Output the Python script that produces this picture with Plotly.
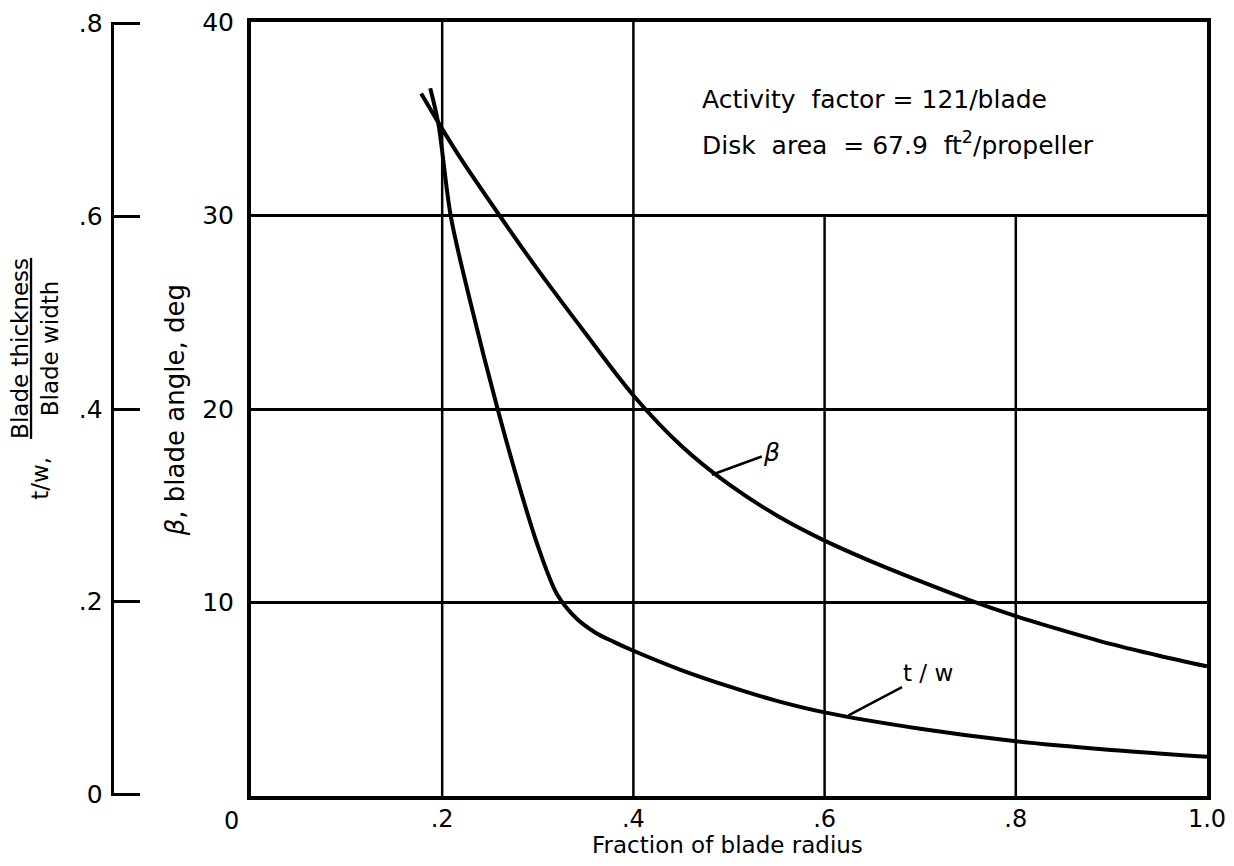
import plotly.graph_objects as go

# ---- data ----
r_beta = [0.178, 0.196, 0.22, 0.26, 0.30, 0.35, 0.40, 0.45, 0.50, 0.55, 0.60,
          0.65, 0.70, 0.75, 0.80, 0.85, 0.90, 0.95, 1.00]
beta = [36.3, 34.8, 32.9, 30.0, 27.2, 23.9, 20.7, 18.1, 16.1, 14.5, 13.2,
        12.1, 11.1, 10.15, 9.3, 8.55, 7.85, 7.25, 6.7]

r_tw = [0.1875, 0.196, 0.209, 0.229, 0.258, 0.28, 0.30, 0.32, 0.34, 0.36, 0.38,
        0.40, 0.45, 0.50, 0.55, 0.60, 0.70, 0.80, 0.90, 1.00]
tw = [0.733, 0.696, 0.600, 0.513, 0.400, 0.322, 0.258, 0.208, 0.183, 0.168, 0.158,
      0.149, 0.129, 0.112, 0.097, 0.085, 0.068, 0.055, 0.046, 0.039]

x_ticks = [0.2, 0.4, 0.6, 0.8, 1.0]
x_ticktext = [".2", ".4", ".6", ".8", "1.0"]
beta_ticks = [10, 20, 30, 40]
beta_ticktext = ["10", "20", "30", "40"]
tw_ticks = [0, 0.2, 0.4, 0.6, 0.8]
tw_ticktext = ["0", ".2", ".4", ".6", ".8"]

grid_x_full = [0.2, 0.4]
grid_x_partial = [0.6, 0.8]   # stop at beta = 30 (annotation box above)
partial_top = 30

note1 = "Activity  factor = 121/blade"
note2 = "Disk  area  = 67.9  ft<sup>2</sup>/propeller"

# ---- layout geometry (page has an 8px body margin) ----
OFF = 8
W, H = 1234 - 2 * OFF, 866 - 2 * OFF
ML, MR, MT, MB = 0, 14, 14, 62
PW = W - ML - MR
PH = H - MT - MB


def px_x(px):
    return (px - OFF - ML) / PW


def px_y(py):
    return (H - MB - (py - OFF)) / PH


FONT = "DejaVu Sans"
BLACK = "#000000"

fig = go.Figure()
fig.add_trace(go.Scatter(x=r_beta, y=beta, mode="lines", yaxis="y",
                         line=dict(color=BLACK, width=4, shape="spline", smoothing=0.9),
                         showlegend=False, hoverinfo="skip"))
fig.add_trace(go.Scatter(x=r_tw, y=tw, mode="lines", yaxis="y2",
                         line=dict(color=BLACK, width=4, shape="spline", smoothing=0.9),
                         showlegend=False, hoverinfo="skip"))

shapes = []
for gx in grid_x_full:
    shapes.append(dict(type="line", xref="x", yref="y", x0=gx, x1=gx, y0=0, y1=40,
                       line=dict(color=BLACK, width=2.5), layer="below"))
for gx in grid_x_partial:
    shapes.append(dict(type="line", xref="x", yref="y", x0=gx, x1=gx, y0=0, y1=partial_top,
                       line=dict(color=BLACK, width=2.5), layer="below"))

annotations = [
    dict(text=note1, xref="x", yref="y", x=0.47, y=36.0, xanchor="left", yanchor="middle",
         showarrow=False, font=dict(family=FONT, size=25, color=BLACK)),
    dict(text=note2, xref="x", yref="y", x=0.47, y=33.7, xanchor="left", yanchor="middle",
         showarrow=False, font=dict(family=FONT, size=25, color=BLACK)),
    # curve labels with leader lines
    dict(text="<i>β</i>", xref="x", yref="y", x=0.482, y=16.6, ax=60, ay=-22,
         showarrow=True, arrowhead=0, arrowwidth=2.5, arrowcolor=BLACK,
         font=dict(family=FONT, size=25, color=BLACK)),
    dict(text="t / w", xref="x", yref="y2", x=0.625, y=0.082, ax=80, ay=-42,
         showarrow=True, arrowhead=0, arrowwidth=2.5, arrowcolor=BLACK,
         font=dict(family=FONT, size=23, color=BLACK)),
    # axis titles
    dict(text="Fraction of blade radius", xref="paper", yref="paper",
         x=px_x(730), y=px_y(845), xanchor="center", yanchor="middle", showarrow=False,
         font=dict(family=FONT, size=23, color=BLACK)),
    dict(text="<i>β</i>, blade angle, deg", xref="paper", yref="paper",
         x=px_x(176), y=px_y(410), xanchor="center", yanchor="middle",
         showarrow=False, textangle=-90,
         font=dict(family=FONT, size=26, color=BLACK)),
    dict(text="<u>Blade thickness</u><br>Blade width", xref="paper", yref="paper",
         x=px_x(35), y=px_y(348), xanchor="center", yanchor="middle",
         showarrow=False, textangle=-90, align="center",
         font=dict(family=FONT, size=23, color=BLACK)),
    dict(text="t/w,", xref="paper", yref="paper",
         x=px_x(40), y=px_y(478), xanchor="center", yanchor="middle",
         showarrow=False, textangle=-90,
         font=dict(family=FONT, size=23, color=BLACK)),
    # x-axis zero label (sits left of the corner)
    dict(text="0", xref="paper", yref="paper",
         x=px_x(232), y=px_y(821), xanchor="center", yanchor="middle", showarrow=False,
         font=dict(family=FONT, size=24, color=BLACK)),
]

fig.update_layout(
    width=W, height=H,
    margin=dict(l=ML, r=MR, t=MT, b=MB),
    paper_bgcolor="white", plot_bgcolor="white",
    font=dict(family=FONT, color=BLACK),
    shapes=shapes, annotations=annotations,
    xaxis=dict(domain=[px_x(252), 1], range=[0, 1], tickvals=x_ticks, ticktext=x_ticktext,
               showgrid=False, zeroline=False, showline=True, linewidth=4, linecolor=BLACK,
               mirror=True, ticks="", ticklabelstandoff=-2, ticklabeloverflow="allow",
               tickfont=dict(family=FONT, size=24, color=BLACK)),
    yaxis=dict(range=[0, 40], tickvals=beta_ticks, ticktext=beta_ticktext,
               showgrid=True, gridcolor=BLACK, gridwidth=2.5, zeroline=False,
               showline=True, linewidth=4, linecolor=BLACK, mirror=True, ticks="",
               ticklabelstandoff=8, ticklabeloverflow="allow",
               tickfont=dict(family=FONT, size=25, color=BLACK)),
    yaxis2=dict(range=[-0.0018, 0.8018], overlaying="y", anchor="free", position=px_x(112),
                side="left", tickvals=tw_ticks, ticktext=tw_ticktext,
                showgrid=False, zeroline=False, showline=True, linewidth=3, linecolor=BLACK,
                ticks="inside", ticklen=26, tickwidth=2.5, tickcolor=BLACK,
                ticklabelstandoff=3, ticklabeloverflow="allow",
                tickfont=dict(family=FONT, size=25, color=BLACK)),
)

fig.write_html("out.html")
